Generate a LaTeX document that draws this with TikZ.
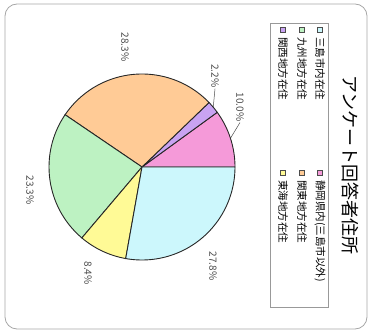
\documentclass[tikz,border=0pt]{standalone}
\usepackage{fontspec}
\usetikzlibrary{calc}
\newfontfamily\jp{Noto Sans CJK JP}
\definecolor{cpink}{HTML}{F59AD9}
\definecolor{cpurple}{HTML}{C9A3F2}
\definecolor{corange}{HTML}{FFCB96}
\definecolor{cgreen}{HTML}{BDF2C2}
\definecolor{cyellow}{HTML}{FFFA96}
\definecolor{ccyan}{HTML}{CCF7FC}
\begin{document}
\begin{tikzpicture}[x=1pt,y=1pt,
  slice/.style={draw=black!85,line width=0.9pt},
  pct/.style={font=\jp\fontsize{10}{11}\selectfont,rotate=-90,inner sep=0pt,text=black!70},
  legtxt/.style={font=\jp\fontsize{10.5}{11}\selectfont,rotate=-90,anchor=west,inner sep=0pt},
  legsq/.style={draw=black!70,line width=0.5pt,minimum size=5pt,inner sep=0pt},
  lead/.style={draw=black!70,line width=0.5pt}]
\useasboundingbox (0,0) rectangle (371,331);
\draw[gray!70,line width=0.8pt,rounded corners=12pt] (5,2) rectangle (367,327);
\coordinate (O) at (142,164);
\def\R{93}
\filldraw[slice,fill=cpink] (O) -- ++(0:\R) arc[start angle=0,end angle=36,radius=\R] -- cycle;
\filldraw[slice,fill=cpurple] (O) -- ++(36:\R) arc[start angle=36,end angle=43.9,radius=\R] -- cycle;
\filldraw[slice,fill=corange] (O) -- ++(43.9:\R) arc[start angle=43.9,end angle=145.8,radius=\R] -- cycle;
\filldraw[slice,fill=cgreen] (O) -- ++(145.8:\R) arc[start angle=145.8,end angle=229.7,radius=\R] -- cycle;
\filldraw[slice,fill=cyellow] (O) -- ++(229.7:\R) arc[start angle=229.7,end angle=259.9,radius=\R] -- cycle;
\filldraw[slice,fill=ccyan] (O) -- ++(259.9:\R) arc[start angle=259.9,end angle=360,radius=\R] -- cycle;
% percentage labels
\node[pct] (p1) at (240,224) {10.0\%};
\node[pct] (p2) at (215,255) {2.2\%};
\node[pct] (p3) at (125,284) {28.3\%};
\node[pct] (p4) at (30,141) {23.3\%};
\node[pct] (p5) at (88,58) {8.4\%};
\node[pct] (p6) at (213,65) {27.8\%};
\coordinate (e1) at ($(O)+(18:\R)$);
\coordinate (e2) at ($(O)+(40:\R)$);
\draw[lead] ([yshift=-1pt]p1.east) -- (e1);
\draw[lead] ([yshift=-1pt]p2.east) -- (e2);
% legend
\draw[gray!80,line width=0.8pt] (270,24) rectangle (328,308);
\node[legsq,fill=ccyan] (s1) at (320,301) {};
\node[legsq,fill=cgreen] (s2) at (302,301) {};
\node[legsq,fill=cpurple] (s3) at (283,301) {};
\node[legsq,fill=cpink] (s4) at (320,158) {};
\node[legsq,fill=corange] (s5) at (302,158) {};
\node[legsq,fill=cyellow] (s6) at (283,158) {};
\node[legtxt] (t1) at (320,294) {三島市内在住};
\node[legtxt] (t2) at (302,294) {九州地方在住};
\node[legtxt] (t3) at (283,294) {関西地方在住};
\node[legtxt] (t4) at (320,151) {静岡県内(三島市以外)};
\node[legtxt] (t5) at (302,151) {関東地方在住};
\node[legtxt] (t6) at (283,151) {東海地方在住};
% title
\node[font=\jp\fontsize{18}{19}\selectfont,rotate=-90,anchor=west,inner sep=0pt] (title) at (350,256) {アンケート回答者住所};
\end{tikzpicture}
\end{document}
